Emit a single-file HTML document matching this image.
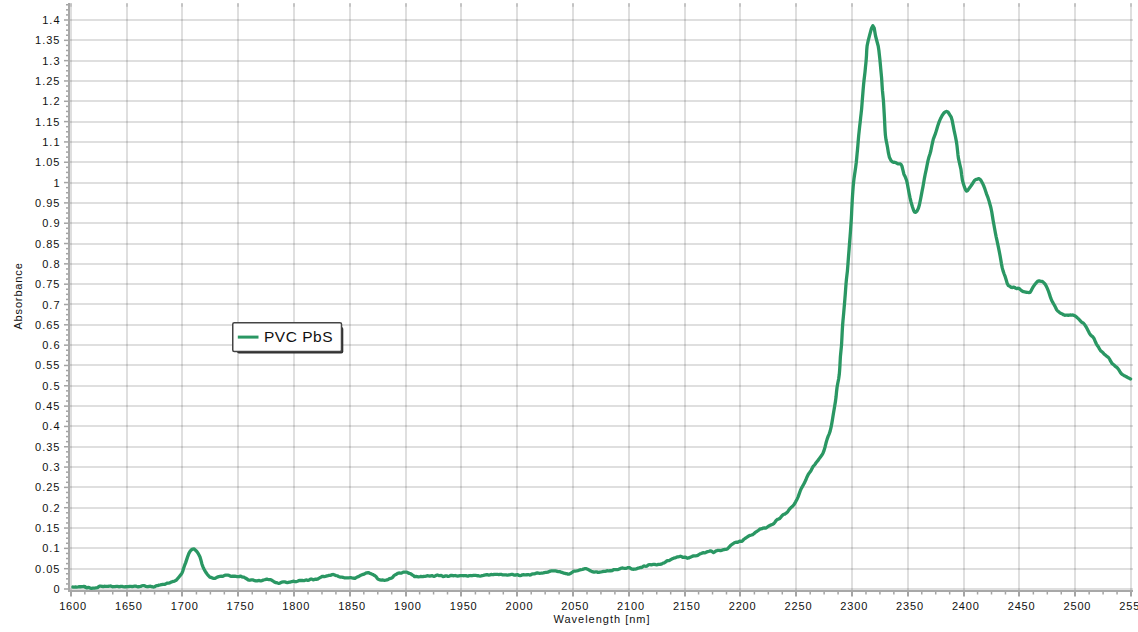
<!DOCTYPE html><html><head><meta charset="utf-8"><style>
html,body{margin:0;padding:0;background:#fff;width:1138px;height:632px;overflow:hidden}
svg{position:absolute;left:0;top:0}
text{font-family:"Liberation Sans",sans-serif;fill:#111}
</style></head><body>
<svg width="1138" height="632" viewBox="0 0 1138 632">

<rect x="70" y="588" width="1063" height="2" fill="rgba(0,0,0,0.127)"/>
<rect x="70" y="568" width="1063" height="2" fill="rgba(0,0,0,0.127)"/>
<rect x="70" y="547" width="1063" height="2" fill="rgba(0,0,0,0.127)"/>
<rect x="70" y="527" width="1063" height="2" fill="rgba(0,0,0,0.127)"/>
<rect x="70" y="507" width="1063" height="2" fill="rgba(0,0,0,0.127)"/>
<rect x="70" y="486" width="1063" height="2" fill="rgba(0,0,0,0.127)"/>
<rect x="70" y="466" width="1063" height="2" fill="rgba(0,0,0,0.127)"/>
<rect x="70" y="446" width="1063" height="2" fill="rgba(0,0,0,0.127)"/>
<rect x="70" y="425" width="1063" height="2" fill="rgba(0,0,0,0.127)"/>
<rect x="70" y="405" width="1063" height="2" fill="rgba(0,0,0,0.127)"/>
<rect x="70" y="385" width="1063" height="2" fill="rgba(0,0,0,0.127)"/>
<rect x="70" y="364" width="1063" height="2" fill="rgba(0,0,0,0.127)"/>
<rect x="70" y="344" width="1063" height="2" fill="rgba(0,0,0,0.127)"/>
<rect x="70" y="324" width="1063" height="2" fill="rgba(0,0,0,0.127)"/>
<rect x="70" y="303" width="1063" height="2" fill="rgba(0,0,0,0.127)"/>
<rect x="70" y="283" width="1063" height="2" fill="rgba(0,0,0,0.127)"/>
<rect x="70" y="263" width="1063" height="2" fill="rgba(0,0,0,0.127)"/>
<rect x="70" y="243" width="1063" height="2" fill="rgba(0,0,0,0.127)"/>
<rect x="70" y="222" width="1063" height="2" fill="rgba(0,0,0,0.127)"/>
<rect x="70" y="202" width="1063" height="2" fill="rgba(0,0,0,0.127)"/>
<rect x="70" y="182" width="1063" height="2" fill="rgba(0,0,0,0.127)"/>
<rect x="70" y="161" width="1063" height="2" fill="rgba(0,0,0,0.127)"/>
<rect x="70" y="141" width="1063" height="2" fill="rgba(0,0,0,0.127)"/>
<rect x="70" y="121" width="1063" height="2" fill="rgba(0,0,0,0.127)"/>
<rect x="70" y="100" width="1063" height="2" fill="rgba(0,0,0,0.127)"/>
<rect x="70" y="80" width="1063" height="2" fill="rgba(0,0,0,0.127)"/>
<rect x="70" y="60" width="1063" height="2" fill="rgba(0,0,0,0.127)"/>
<rect x="70" y="39" width="1063" height="2" fill="rgba(0,0,0,0.127)"/>
<rect x="70" y="19" width="1063" height="2" fill="rgba(0,0,0,0.127)"/>
<rect x="70" y="3.2" width="2" height="586.8" fill="rgba(0,0,0,0.127)"/>
<rect x="70" y="3.2" width="2" height="3.6" fill="rgba(0,0,0,0.127)"/>
<rect x="126" y="3.2" width="2" height="586.8" fill="rgba(0,0,0,0.127)"/>
<rect x="126" y="3.2" width="2" height="3.6" fill="rgba(0,0,0,0.127)"/>
<rect x="181" y="3.2" width="2" height="586.8" fill="rgba(0,0,0,0.127)"/>
<rect x="181" y="3.2" width="2" height="3.6" fill="rgba(0,0,0,0.127)"/>
<rect x="237" y="3.2" width="2" height="586.8" fill="rgba(0,0,0,0.127)"/>
<rect x="237" y="3.2" width="2" height="3.6" fill="rgba(0,0,0,0.127)"/>
<rect x="293" y="3.2" width="2" height="586.8" fill="rgba(0,0,0,0.127)"/>
<rect x="293" y="3.2" width="2" height="3.6" fill="rgba(0,0,0,0.127)"/>
<rect x="349" y="3.2" width="2" height="586.8" fill="rgba(0,0,0,0.127)"/>
<rect x="349" y="3.2" width="2" height="3.6" fill="rgba(0,0,0,0.127)"/>
<rect x="405" y="3.2" width="2" height="586.8" fill="rgba(0,0,0,0.127)"/>
<rect x="405" y="3.2" width="2" height="3.6" fill="rgba(0,0,0,0.127)"/>
<rect x="460" y="3.2" width="2" height="586.8" fill="rgba(0,0,0,0.127)"/>
<rect x="460" y="3.2" width="2" height="3.6" fill="rgba(0,0,0,0.127)"/>
<rect x="516" y="3.2" width="2" height="586.8" fill="rgba(0,0,0,0.127)"/>
<rect x="516" y="3.2" width="2" height="3.6" fill="rgba(0,0,0,0.127)"/>
<rect x="572" y="3.2" width="2" height="586.8" fill="rgba(0,0,0,0.127)"/>
<rect x="572" y="3.2" width="2" height="3.6" fill="rgba(0,0,0,0.127)"/>
<rect x="628" y="3.2" width="2" height="586.8" fill="rgba(0,0,0,0.127)"/>
<rect x="628" y="3.2" width="2" height="3.6" fill="rgba(0,0,0,0.127)"/>
<rect x="684" y="3.2" width="2" height="586.8" fill="rgba(0,0,0,0.127)"/>
<rect x="684" y="3.2" width="2" height="3.6" fill="rgba(0,0,0,0.127)"/>
<rect x="739" y="3.2" width="2" height="586.8" fill="rgba(0,0,0,0.127)"/>
<rect x="739" y="3.2" width="2" height="3.6" fill="rgba(0,0,0,0.127)"/>
<rect x="795" y="3.2" width="2" height="586.8" fill="rgba(0,0,0,0.127)"/>
<rect x="795" y="3.2" width="2" height="3.6" fill="rgba(0,0,0,0.127)"/>
<rect x="851" y="3.2" width="2" height="586.8" fill="rgba(0,0,0,0.127)"/>
<rect x="851" y="3.2" width="2" height="3.6" fill="rgba(0,0,0,0.127)"/>
<rect x="907" y="3.2" width="2" height="586.8" fill="rgba(0,0,0,0.127)"/>
<rect x="907" y="3.2" width="2" height="3.6" fill="rgba(0,0,0,0.127)"/>
<rect x="963" y="3.2" width="2" height="586.8" fill="rgba(0,0,0,0.127)"/>
<rect x="963" y="3.2" width="2" height="3.6" fill="rgba(0,0,0,0.127)"/>
<rect x="1018" y="3.2" width="2" height="586.8" fill="rgba(0,0,0,0.127)"/>
<rect x="1018" y="3.2" width="2" height="3.6" fill="rgba(0,0,0,0.127)"/>
<rect x="1074" y="3.2" width="2" height="586.8" fill="rgba(0,0,0,0.127)"/>
<rect x="1074" y="3.2" width="2" height="3.6" fill="rgba(0,0,0,0.127)"/>
<rect x="1130" y="3.2" width="2" height="586.8" fill="rgba(0,0,0,0.127)"/>
<rect x="1130" y="3.2" width="2" height="3.6" fill="rgba(0,0,0,0.127)"/>
<rect x="68" y="3" width="2" height="588" fill="#a8a8a8"/>
<rect x="68" y="590" width="1065" height="2" fill="#a8a8a8"/>
<rect x="64" y="588.25" width="4" height="1.5" fill="#a4a4a4"/>
<rect x="66" y="583.17" width="2" height="1.5" fill="#a4a4a4"/>
<rect x="66" y="578.09" width="2" height="1.5" fill="#a4a4a4"/>
<rect x="66" y="573.01" width="2" height="1.5" fill="#a4a4a4"/>
<rect x="64" y="567.93" width="4" height="1.5" fill="#a4a4a4"/>
<rect x="66" y="562.85" width="2" height="1.5" fill="#a4a4a4"/>
<rect x="66" y="557.77" width="2" height="1.5" fill="#a4a4a4"/>
<rect x="66" y="552.69" width="2" height="1.5" fill="#a4a4a4"/>
<rect x="64" y="547.61" width="4" height="1.5" fill="#a4a4a4"/>
<rect x="66" y="542.53" width="2" height="1.5" fill="#a4a4a4"/>
<rect x="66" y="537.45" width="2" height="1.5" fill="#a4a4a4"/>
<rect x="66" y="532.37" width="2" height="1.5" fill="#a4a4a4"/>
<rect x="64" y="527.29" width="4" height="1.5" fill="#a4a4a4"/>
<rect x="66" y="522.21" width="2" height="1.5" fill="#a4a4a4"/>
<rect x="66" y="517.12" width="2" height="1.5" fill="#a4a4a4"/>
<rect x="66" y="512.04" width="2" height="1.5" fill="#a4a4a4"/>
<rect x="64" y="506.96" width="4" height="1.5" fill="#a4a4a4"/>
<rect x="66" y="501.88" width="2" height="1.5" fill="#a4a4a4"/>
<rect x="66" y="496.80" width="2" height="1.5" fill="#a4a4a4"/>
<rect x="66" y="491.72" width="2" height="1.5" fill="#a4a4a4"/>
<rect x="64" y="486.64" width="4" height="1.5" fill="#a4a4a4"/>
<rect x="66" y="481.56" width="2" height="1.5" fill="#a4a4a4"/>
<rect x="66" y="476.48" width="2" height="1.5" fill="#a4a4a4"/>
<rect x="66" y="471.40" width="2" height="1.5" fill="#a4a4a4"/>
<rect x="64" y="466.32" width="4" height="1.5" fill="#a4a4a4"/>
<rect x="66" y="461.24" width="2" height="1.5" fill="#a4a4a4"/>
<rect x="66" y="456.16" width="2" height="1.5" fill="#a4a4a4"/>
<rect x="66" y="451.08" width="2" height="1.5" fill="#a4a4a4"/>
<rect x="64" y="446.00" width="4" height="1.5" fill="#a4a4a4"/>
<rect x="66" y="440.92" width="2" height="1.5" fill="#a4a4a4"/>
<rect x="66" y="435.84" width="2" height="1.5" fill="#a4a4a4"/>
<rect x="66" y="430.76" width="2" height="1.5" fill="#a4a4a4"/>
<rect x="64" y="425.68" width="4" height="1.5" fill="#a4a4a4"/>
<rect x="66" y="420.60" width="2" height="1.5" fill="#a4a4a4"/>
<rect x="66" y="415.52" width="2" height="1.5" fill="#a4a4a4"/>
<rect x="66" y="410.44" width="2" height="1.5" fill="#a4a4a4"/>
<rect x="64" y="405.36" width="4" height="1.5" fill="#a4a4a4"/>
<rect x="66" y="400.28" width="2" height="1.5" fill="#a4a4a4"/>
<rect x="66" y="395.20" width="2" height="1.5" fill="#a4a4a4"/>
<rect x="66" y="390.12" width="2" height="1.5" fill="#a4a4a4"/>
<rect x="64" y="385.04" width="4" height="1.5" fill="#a4a4a4"/>
<rect x="66" y="379.96" width="2" height="1.5" fill="#a4a4a4"/>
<rect x="66" y="374.88" width="2" height="1.5" fill="#a4a4a4"/>
<rect x="66" y="369.79" width="2" height="1.5" fill="#a4a4a4"/>
<rect x="64" y="364.71" width="4" height="1.5" fill="#a4a4a4"/>
<rect x="66" y="359.63" width="2" height="1.5" fill="#a4a4a4"/>
<rect x="66" y="354.55" width="2" height="1.5" fill="#a4a4a4"/>
<rect x="66" y="349.47" width="2" height="1.5" fill="#a4a4a4"/>
<rect x="64" y="344.39" width="4" height="1.5" fill="#a4a4a4"/>
<rect x="66" y="339.31" width="2" height="1.5" fill="#a4a4a4"/>
<rect x="66" y="334.23" width="2" height="1.5" fill="#a4a4a4"/>
<rect x="66" y="329.15" width="2" height="1.5" fill="#a4a4a4"/>
<rect x="64" y="324.07" width="4" height="1.5" fill="#a4a4a4"/>
<rect x="66" y="318.99" width="2" height="1.5" fill="#a4a4a4"/>
<rect x="66" y="313.91" width="2" height="1.5" fill="#a4a4a4"/>
<rect x="66" y="308.83" width="2" height="1.5" fill="#a4a4a4"/>
<rect x="64" y="303.75" width="4" height="1.5" fill="#a4a4a4"/>
<rect x="66" y="298.67" width="2" height="1.5" fill="#a4a4a4"/>
<rect x="66" y="293.59" width="2" height="1.5" fill="#a4a4a4"/>
<rect x="66" y="288.51" width="2" height="1.5" fill="#a4a4a4"/>
<rect x="64" y="283.43" width="4" height="1.5" fill="#a4a4a4"/>
<rect x="66" y="278.35" width="2" height="1.5" fill="#a4a4a4"/>
<rect x="66" y="273.27" width="2" height="1.5" fill="#a4a4a4"/>
<rect x="66" y="268.19" width="2" height="1.5" fill="#a4a4a4"/>
<rect x="64" y="263.11" width="4" height="1.5" fill="#a4a4a4"/>
<rect x="66" y="258.03" width="2" height="1.5" fill="#a4a4a4"/>
<rect x="66" y="252.95" width="2" height="1.5" fill="#a4a4a4"/>
<rect x="66" y="247.87" width="2" height="1.5" fill="#a4a4a4"/>
<rect x="64" y="242.79" width="4" height="1.5" fill="#a4a4a4"/>
<rect x="66" y="237.71" width="2" height="1.5" fill="#a4a4a4"/>
<rect x="66" y="232.62" width="2" height="1.5" fill="#a4a4a4"/>
<rect x="66" y="227.54" width="2" height="1.5" fill="#a4a4a4"/>
<rect x="64" y="222.46" width="4" height="1.5" fill="#a4a4a4"/>
<rect x="66" y="217.38" width="2" height="1.5" fill="#a4a4a4"/>
<rect x="66" y="212.30" width="2" height="1.5" fill="#a4a4a4"/>
<rect x="66" y="207.22" width="2" height="1.5" fill="#a4a4a4"/>
<rect x="64" y="202.14" width="4" height="1.5" fill="#a4a4a4"/>
<rect x="66" y="197.06" width="2" height="1.5" fill="#a4a4a4"/>
<rect x="66" y="191.98" width="2" height="1.5" fill="#a4a4a4"/>
<rect x="66" y="186.90" width="2" height="1.5" fill="#a4a4a4"/>
<rect x="64" y="181.82" width="4" height="1.5" fill="#a4a4a4"/>
<rect x="66" y="176.74" width="2" height="1.5" fill="#a4a4a4"/>
<rect x="66" y="171.66" width="2" height="1.5" fill="#a4a4a4"/>
<rect x="66" y="166.58" width="2" height="1.5" fill="#a4a4a4"/>
<rect x="64" y="161.50" width="4" height="1.5" fill="#a4a4a4"/>
<rect x="66" y="156.42" width="2" height="1.5" fill="#a4a4a4"/>
<rect x="66" y="151.34" width="2" height="1.5" fill="#a4a4a4"/>
<rect x="66" y="146.26" width="2" height="1.5" fill="#a4a4a4"/>
<rect x="64" y="141.18" width="4" height="1.5" fill="#a4a4a4"/>
<rect x="66" y="136.10" width="2" height="1.5" fill="#a4a4a4"/>
<rect x="66" y="131.02" width="2" height="1.5" fill="#a4a4a4"/>
<rect x="66" y="125.94" width="2" height="1.5" fill="#a4a4a4"/>
<rect x="64" y="120.86" width="4" height="1.5" fill="#a4a4a4"/>
<rect x="66" y="115.78" width="2" height="1.5" fill="#a4a4a4"/>
<rect x="66" y="110.70" width="2" height="1.5" fill="#a4a4a4"/>
<rect x="66" y="105.62" width="2" height="1.5" fill="#a4a4a4"/>
<rect x="64" y="100.54" width="4" height="1.5" fill="#a4a4a4"/>
<rect x="66" y="95.46" width="2" height="1.5" fill="#a4a4a4"/>
<rect x="66" y="90.37" width="2" height="1.5" fill="#a4a4a4"/>
<rect x="66" y="85.29" width="2" height="1.5" fill="#a4a4a4"/>
<rect x="64" y="80.21" width="4" height="1.5" fill="#a4a4a4"/>
<rect x="66" y="75.13" width="2" height="1.5" fill="#a4a4a4"/>
<rect x="66" y="70.05" width="2" height="1.5" fill="#a4a4a4"/>
<rect x="66" y="64.97" width="2" height="1.5" fill="#a4a4a4"/>
<rect x="64" y="59.89" width="4" height="1.5" fill="#a4a4a4"/>
<rect x="66" y="54.81" width="2" height="1.5" fill="#a4a4a4"/>
<rect x="66" y="49.73" width="2" height="1.5" fill="#a4a4a4"/>
<rect x="66" y="44.65" width="2" height="1.5" fill="#a4a4a4"/>
<rect x="64" y="39.57" width="4" height="1.5" fill="#a4a4a4"/>
<rect x="66" y="34.49" width="2" height="1.5" fill="#a4a4a4"/>
<rect x="66" y="29.41" width="2" height="1.5" fill="#a4a4a4"/>
<rect x="66" y="24.33" width="2" height="1.5" fill="#a4a4a4"/>
<rect x="64" y="19.25" width="4" height="1.5" fill="#a4a4a4"/>
<rect x="66" y="14.17" width="2" height="1.5" fill="#a4a4a4"/>
<rect x="66" y="9.09" width="2" height="1.5" fill="#a4a4a4"/>
<rect x="66" y="4.01" width="2" height="1.5" fill="#a4a4a4"/>
<rect x="70" y="592" width="2" height="4.5" fill="#a4a4a4"/>
<rect x="84.10" y="592" width="1.5" height="2.5" fill="#a4a4a4"/>
<rect x="98.05" y="592" width="1.5" height="2.5" fill="#a4a4a4"/>
<rect x="112.00" y="592" width="1.5" height="2.5" fill="#a4a4a4"/>
<rect x="126" y="592" width="2" height="4.5" fill="#a4a4a4"/>
<rect x="139.89" y="592" width="1.5" height="2.5" fill="#a4a4a4"/>
<rect x="153.84" y="592" width="1.5" height="2.5" fill="#a4a4a4"/>
<rect x="167.79" y="592" width="1.5" height="2.5" fill="#a4a4a4"/>
<rect x="181" y="592" width="2" height="4.5" fill="#a4a4a4"/>
<rect x="195.69" y="592" width="1.5" height="2.5" fill="#a4a4a4"/>
<rect x="209.64" y="592" width="1.5" height="2.5" fill="#a4a4a4"/>
<rect x="223.59" y="592" width="1.5" height="2.5" fill="#a4a4a4"/>
<rect x="237" y="592" width="2" height="4.5" fill="#a4a4a4"/>
<rect x="251.48" y="592" width="1.5" height="2.5" fill="#a4a4a4"/>
<rect x="265.43" y="592" width="1.5" height="2.5" fill="#a4a4a4"/>
<rect x="279.38" y="592" width="1.5" height="2.5" fill="#a4a4a4"/>
<rect x="293" y="592" width="2" height="4.5" fill="#a4a4a4"/>
<rect x="307.28" y="592" width="1.5" height="2.5" fill="#a4a4a4"/>
<rect x="321.23" y="592" width="1.5" height="2.5" fill="#a4a4a4"/>
<rect x="335.17" y="592" width="1.5" height="2.5" fill="#a4a4a4"/>
<rect x="349" y="592" width="2" height="4.5" fill="#a4a4a4"/>
<rect x="363.07" y="592" width="1.5" height="2.5" fill="#a4a4a4"/>
<rect x="377.02" y="592" width="1.5" height="2.5" fill="#a4a4a4"/>
<rect x="390.97" y="592" width="1.5" height="2.5" fill="#a4a4a4"/>
<rect x="405" y="592" width="2" height="4.5" fill="#a4a4a4"/>
<rect x="418.87" y="592" width="1.5" height="2.5" fill="#a4a4a4"/>
<rect x="432.82" y="592" width="1.5" height="2.5" fill="#a4a4a4"/>
<rect x="446.76" y="592" width="1.5" height="2.5" fill="#a4a4a4"/>
<rect x="460" y="592" width="2" height="4.5" fill="#a4a4a4"/>
<rect x="474.66" y="592" width="1.5" height="2.5" fill="#a4a4a4"/>
<rect x="488.61" y="592" width="1.5" height="2.5" fill="#a4a4a4"/>
<rect x="502.56" y="592" width="1.5" height="2.5" fill="#a4a4a4"/>
<rect x="516" y="592" width="2" height="4.5" fill="#a4a4a4"/>
<rect x="530.46" y="592" width="1.5" height="2.5" fill="#a4a4a4"/>
<rect x="544.41" y="592" width="1.5" height="2.5" fill="#a4a4a4"/>
<rect x="558.35" y="592" width="1.5" height="2.5" fill="#a4a4a4"/>
<rect x="572" y="592" width="2" height="4.5" fill="#a4a4a4"/>
<rect x="586.25" y="592" width="1.5" height="2.5" fill="#a4a4a4"/>
<rect x="600.20" y="592" width="1.5" height="2.5" fill="#a4a4a4"/>
<rect x="614.15" y="592" width="1.5" height="2.5" fill="#a4a4a4"/>
<rect x="628" y="592" width="2" height="4.5" fill="#a4a4a4"/>
<rect x="642.05" y="592" width="1.5" height="2.5" fill="#a4a4a4"/>
<rect x="655.99" y="592" width="1.5" height="2.5" fill="#a4a4a4"/>
<rect x="669.94" y="592" width="1.5" height="2.5" fill="#a4a4a4"/>
<rect x="684" y="592" width="2" height="4.5" fill="#a4a4a4"/>
<rect x="697.84" y="592" width="1.5" height="2.5" fill="#a4a4a4"/>
<rect x="711.79" y="592" width="1.5" height="2.5" fill="#a4a4a4"/>
<rect x="725.74" y="592" width="1.5" height="2.5" fill="#a4a4a4"/>
<rect x="739" y="592" width="2" height="4.5" fill="#a4a4a4"/>
<rect x="753.64" y="592" width="1.5" height="2.5" fill="#a4a4a4"/>
<rect x="767.58" y="592" width="1.5" height="2.5" fill="#a4a4a4"/>
<rect x="781.53" y="592" width="1.5" height="2.5" fill="#a4a4a4"/>
<rect x="795" y="592" width="2" height="4.5" fill="#a4a4a4"/>
<rect x="809.43" y="592" width="1.5" height="2.5" fill="#a4a4a4"/>
<rect x="823.38" y="592" width="1.5" height="2.5" fill="#a4a4a4"/>
<rect x="837.33" y="592" width="1.5" height="2.5" fill="#a4a4a4"/>
<rect x="851" y="592" width="2" height="4.5" fill="#a4a4a4"/>
<rect x="865.23" y="592" width="1.5" height="2.5" fill="#a4a4a4"/>
<rect x="879.17" y="592" width="1.5" height="2.5" fill="#a4a4a4"/>
<rect x="893.12" y="592" width="1.5" height="2.5" fill="#a4a4a4"/>
<rect x="907" y="592" width="2" height="4.5" fill="#a4a4a4"/>
<rect x="921.02" y="592" width="1.5" height="2.5" fill="#a4a4a4"/>
<rect x="934.97" y="592" width="1.5" height="2.5" fill="#a4a4a4"/>
<rect x="948.92" y="592" width="1.5" height="2.5" fill="#a4a4a4"/>
<rect x="963" y="592" width="2" height="4.5" fill="#a4a4a4"/>
<rect x="976.81" y="592" width="1.5" height="2.5" fill="#a4a4a4"/>
<rect x="990.76" y="592" width="1.5" height="2.5" fill="#a4a4a4"/>
<rect x="1004.71" y="592" width="1.5" height="2.5" fill="#a4a4a4"/>
<rect x="1018" y="592" width="2" height="4.5" fill="#a4a4a4"/>
<rect x="1032.61" y="592" width="1.5" height="2.5" fill="#a4a4a4"/>
<rect x="1046.56" y="592" width="1.5" height="2.5" fill="#a4a4a4"/>
<rect x="1060.51" y="592" width="1.5" height="2.5" fill="#a4a4a4"/>
<rect x="1074" y="592" width="2" height="4.5" fill="#a4a4a4"/>
<rect x="1088.40" y="592" width="1.5" height="2.5" fill="#a4a4a4"/>
<rect x="1102.35" y="592" width="1.5" height="2.5" fill="#a4a4a4"/>
<rect x="1116.30" y="592" width="1.5" height="2.5" fill="#a4a4a4"/>
<rect x="1130" y="592" width="2" height="4.5" fill="#a4a4a4"/>
<text x="60.5" y="593.00" font-size="11" text-anchor="end" letter-spacing="1.0">0</text>
<text x="60.5" y="572.68" font-size="11" text-anchor="end" letter-spacing="1.0">0.05</text>
<text x="60.5" y="552.36" font-size="11" text-anchor="end" letter-spacing="1.0">0.1</text>
<text x="60.5" y="532.04" font-size="11" text-anchor="end" letter-spacing="1.0">0.15</text>
<text x="60.5" y="511.71" font-size="11" text-anchor="end" letter-spacing="1.0">0.2</text>
<text x="60.5" y="491.39" font-size="11" text-anchor="end" letter-spacing="1.0">0.25</text>
<text x="60.5" y="471.07" font-size="11" text-anchor="end" letter-spacing="1.0">0.3</text>
<text x="60.5" y="450.75" font-size="11" text-anchor="end" letter-spacing="1.0">0.35</text>
<text x="60.5" y="430.43" font-size="11" text-anchor="end" letter-spacing="1.0">0.4</text>
<text x="60.5" y="410.11" font-size="11" text-anchor="end" letter-spacing="1.0">0.45</text>
<text x="60.5" y="389.79" font-size="11" text-anchor="end" letter-spacing="1.0">0.5</text>
<text x="60.5" y="369.46" font-size="11" text-anchor="end" letter-spacing="1.0">0.55</text>
<text x="60.5" y="349.14" font-size="11" text-anchor="end" letter-spacing="1.0">0.6</text>
<text x="60.5" y="328.82" font-size="11" text-anchor="end" letter-spacing="1.0">0.65</text>
<text x="60.5" y="308.50" font-size="11" text-anchor="end" letter-spacing="1.0">0.7</text>
<text x="60.5" y="288.18" font-size="11" text-anchor="end" letter-spacing="1.0">0.75</text>
<text x="60.5" y="267.86" font-size="11" text-anchor="end" letter-spacing="1.0">0.8</text>
<text x="60.5" y="247.54" font-size="11" text-anchor="end" letter-spacing="1.0">0.85</text>
<text x="60.5" y="227.21" font-size="11" text-anchor="end" letter-spacing="1.0">0.9</text>
<text x="60.5" y="206.89" font-size="11" text-anchor="end" letter-spacing="1.0">0.95</text>
<text x="60.5" y="186.57" font-size="11" text-anchor="end" letter-spacing="1.0">1</text>
<text x="60.5" y="166.25" font-size="11" text-anchor="end" letter-spacing="1.0">1.05</text>
<text x="60.5" y="145.93" font-size="11" text-anchor="end" letter-spacing="1.0">1.1</text>
<text x="60.5" y="125.61" font-size="11" text-anchor="end" letter-spacing="1.0">1.15</text>
<text x="60.5" y="105.29" font-size="11" text-anchor="end" letter-spacing="1.0">1.2</text>
<text x="60.5" y="84.96" font-size="11" text-anchor="end" letter-spacing="1.0">1.25</text>
<text x="60.5" y="64.64" font-size="11" text-anchor="end" letter-spacing="1.0">1.3</text>
<text x="60.5" y="44.32" font-size="11" text-anchor="end" letter-spacing="1.0">1.35</text>
<text x="60.5" y="24.00" font-size="11" text-anchor="end" letter-spacing="1.0">1.4</text>
<text x="73.10" y="610" font-size="11" text-anchor="middle" letter-spacing="0.85">1600</text>
<text x="128.89" y="610" font-size="11" text-anchor="middle" letter-spacing="0.85">1650</text>
<text x="184.69" y="610" font-size="11" text-anchor="middle" letter-spacing="0.85">1700</text>
<text x="240.48" y="610" font-size="11" text-anchor="middle" letter-spacing="0.85">1750</text>
<text x="296.28" y="610" font-size="11" text-anchor="middle" letter-spacing="0.85">1800</text>
<text x="352.07" y="610" font-size="11" text-anchor="middle" letter-spacing="0.85">1850</text>
<text x="407.87" y="610" font-size="11" text-anchor="middle" letter-spacing="0.85">1900</text>
<text x="463.66" y="610" font-size="11" text-anchor="middle" letter-spacing="0.85">1950</text>
<text x="519.46" y="610" font-size="11" text-anchor="middle" letter-spacing="0.85">2000</text>
<text x="575.25" y="610" font-size="11" text-anchor="middle" letter-spacing="0.85">2050</text>
<text x="631.05" y="610" font-size="11" text-anchor="middle" letter-spacing="0.85">2100</text>
<text x="686.84" y="610" font-size="11" text-anchor="middle" letter-spacing="0.85">2150</text>
<text x="742.64" y="610" font-size="11" text-anchor="middle" letter-spacing="0.85">2200</text>
<text x="798.43" y="610" font-size="11" text-anchor="middle" letter-spacing="0.85">2250</text>
<text x="854.23" y="610" font-size="11" text-anchor="middle" letter-spacing="0.85">2300</text>
<text x="910.02" y="610" font-size="11" text-anchor="middle" letter-spacing="0.85">2350</text>
<text x="965.82" y="610" font-size="11" text-anchor="middle" letter-spacing="0.85">2400</text>
<text x="1021.61" y="610" font-size="11" text-anchor="middle" letter-spacing="0.85">2450</text>
<text x="1077.41" y="610" font-size="11" text-anchor="middle" letter-spacing="0.85">2500</text>
<text x="1133.20" y="610" font-size="11" text-anchor="middle" letter-spacing="0.85">2550</text>
<text x="602" y="623" font-size="11" text-anchor="middle" letter-spacing="1.0">Wavelength [nm]</text>
<text transform="translate(22.4,296) rotate(-90)" x="0" y="0" font-size="11" text-anchor="middle" letter-spacing="0.85">Absorbance</text>
<path d="M72.80,587.01 L73.49,587.05 L74.42,587.13 L75.54,587.00 L76.79,587.03 L78.11,586.90 L79.44,586.71 L80.73,586.73 L81.93,586.66 L82.97,586.63 L83.80,586.50 L85.19,586.69 L85.71,587.48 L86.90,587.89 L87.80,587.52 L88.90,587.51 L90.15,588.09 L91.48,588.40 L92.80,588.13 L94.06,588.04 L95.18,588.03 L96.10,587.77 L97.56,587.55 L98.38,586.95 L99.60,586.21 L100.60,586.09 L101.77,586.36 L103.04,586.51 L104.34,586.27 L105.58,586.31 L106.70,586.40 L107.85,586.32 L108.87,586.26 L109.84,586.04 L110.83,586.01 L111.90,586.42 L112.71,586.79 L113.37,586.68 L114.06,586.53 L114.96,586.59 L116.24,586.45 L118.10,586.43 L118.90,586.76 L119.82,586.68 L120.84,586.37 L121.95,586.44 L123.13,586.71 L124.38,586.93 L125.66,586.76 L126.98,586.61 L128.31,586.65 L129.63,586.32 L130.94,586.36 L132.21,586.52 L133.44,586.28 L134.60,586.10 L135.68,586.12 L136.67,586.51 L137.55,586.77 L138.30,586.75 L140.53,586.48 L141.54,585.99 L142.06,585.77 L142.80,585.71 L143.86,585.67 L144.88,585.92 L145.93,586.50 L147.10,586.74 L148.14,586.56 L149.26,586.35 L150.42,586.26 L151.61,586.58 L152.80,586.94 L153.82,587.06 L154.89,586.67 L155.96,585.96 L157.03,585.74 L158.05,585.55 L159.00,585.13 L160.28,584.93 L161.44,584.71 L162.55,584.35 L163.70,584.35 L164.92,584.31 L166.16,583.65 L167.37,583.07 L168.50,583.06 L169.84,582.80 L171.07,582.13 L172.30,581.69 L173.59,581.43 L174.87,580.96 L176.10,580.22 L177.27,579.08 L178.39,577.68 L179.40,576.46 L180.69,574.92 L181.80,573.39 L182.78,571.04 L183.70,567.95 L184.68,565.21 L185.60,562.89 L187.00,558.63 L187.87,556.03 L188.90,553.37 L190.22,551.18 L191.60,549.71 L192.79,549.03 L194.00,548.98 L194.89,549.59 L195.82,550.55 L196.80,551.48 L197.89,552.90 L199.01,555.02 L200.00,557.01 L200.96,560.15 L201.90,563.98 L202.87,566.65 L203.97,569.01 L205.00,570.89 L206.18,572.87 L207.40,574.48 L208.44,575.69 L209.59,576.89 L210.80,577.47 L211.75,577.72 L212.76,578.12 L213.76,578.38 L214.70,578.40 L215.89,577.91 L217.01,577.27 L218.00,576.88 L218.91,576.62 L220.10,576.28 L221.00,576.24 L222.09,576.46 L223.30,576.11 L224.53,575.38 L225.70,575.15 L226.82,575.22 L227.94,575.17 L229.06,575.34 L230.15,576.04 L231.20,576.39 L232.47,576.25 L233.69,576.22 L234.87,576.23 L236.00,576.38 L237.08,576.57 L238.11,576.72 L239.09,576.72 L240.00,576.23 L241.02,576.23 L241.93,576.91 L243.00,577.07 L243.86,577.15 L244.73,577.69 L245.83,578.26 L247.40,579.23 L248.22,580.01 L249.17,580.24 L250.21,580.06 L251.32,579.85 L252.48,579.86 L253.66,580.18 L254.82,580.68 L255.95,580.97 L257.02,580.96 L258.00,580.65 L259.25,580.51 L260.38,580.81 L261.44,580.83 L262.47,580.40 L263.53,579.99 L264.66,579.74 L265.90,579.44 L266.85,579.20 L267.86,579.40 L268.91,579.55 L269.99,579.55 L271.09,579.91 L272.20,580.54 L273.29,581.22 L274.37,582.07 L275.41,582.57 L276.40,582.65 L277.59,583.04 L278.74,583.38 L279.86,583.13 L280.96,582.51 L282.04,582.07 L283.10,581.93 L284.15,581.84 L285.20,581.95 L286.35,582.38 L287.42,582.69 L288.47,582.48 L289.52,582.06 L290.61,581.98 L291.80,581.71 L293.10,581.23 L294.10,581.43 L295.17,581.73 L296.29,581.58 L297.45,581.23 L298.63,580.70 L299.83,580.44 L301.03,580.51 L302.22,580.46 L303.38,580.62 L304.50,580.61 L305.61,580.07 L306.73,579.98 L307.85,580.30 L308.97,580.03 L310.07,579.34 L311.16,578.99 L312.21,579.25 L313.22,579.80 L314.19,579.64 L315.10,579.17 L316.45,579.26 L317.63,579.21 L318.71,578.47 L319.77,577.74 L320.87,577.19 L322.10,576.47 L323.14,576.31 L324.26,576.65 L325.43,576.40 L326.62,575.99 L327.79,575.77 L328.92,575.43 L329.96,575.38 L330.90,575.13 L332.17,574.55 L333.26,574.48 L334.22,574.75 L335.11,575.16 L336.00,575.55 L336.92,575.77 L337.66,575.94 L338.56,576.42 L340.00,577.04 L340.82,577.05 L341.81,577.07 L342.92,577.49 L344.11,577.73 L345.33,577.78 L346.55,577.93 L347.73,577.91 L348.83,577.85 L349.80,577.73 L350.60,577.55 L352.21,577.98 L353.04,578.21 L354.10,578.25 L355.06,578.25 L356.12,577.62 L357.25,577.06 L358.45,576.65 L359.70,575.87 L360.84,575.17 L362.09,574.70 L363.38,574.38 L364.64,573.80 L365.81,573.08 L366.80,572.76 L368.18,572.53 L369.16,572.83 L370.30,573.55 L371.48,573.93 L372.79,574.43 L374.09,575.28 L375.20,575.96 L376.23,576.84 L377.03,578.04 L378.00,579.06 L378.91,579.58 L379.89,579.96 L381.00,580.03 L382.30,580.00 L383.33,580.13 L384.49,580.28 L385.72,580.16 L386.97,579.99 L388.18,579.51 L389.30,578.71 L390.52,578.32 L391.67,578.10 L392.77,577.16 L393.84,575.78 L394.90,574.97 L395.93,574.52 L396.91,573.85 L397.89,573.24 L398.87,572.97 L399.90,573.09 L400.99,573.18 L402.13,572.71 L403.28,572.12 L404.42,572.13 L405.50,572.08 L406.81,572.08 L408.08,572.88 L409.29,573.39 L410.40,573.56 L411.57,574.41 L412.59,575.17 L413.90,575.96 L414.66,576.67 L415.41,576.72 L416.23,576.40 L417.21,576.55 L418.44,576.78 L420.00,576.63 L420.81,576.45 L421.72,576.62 L422.71,576.65 L423.77,576.34 L424.88,576.34 L426.04,576.17 L427.23,575.75 L428.42,575.84 L429.61,576.07 L430.78,575.78 L431.92,575.63 L433.02,576.08 L434.05,576.33 L435.00,575.98 L436.21,575.33 L437.30,575.00 L438.31,575.25 L439.26,575.66 L440.19,575.55 L441.13,575.41 L442.09,575.92 L443.13,576.51 L444.25,576.45 L445.50,575.87 L446.47,575.86 L447.47,576.32 L448.52,576.38 L449.60,576.03 L450.71,575.48 L451.85,575.40 L453.01,575.79 L454.18,575.62 L455.37,575.52 L456.58,575.96 L457.78,576.11 L458.99,575.77 L460.20,575.53 L461.40,575.54 L462.45,575.54 L463.52,575.74 L464.60,575.71 L465.68,575.57 L466.78,575.93 L467.88,576.12 L468.99,575.69 L470.10,575.51 L471.22,575.73 L472.33,575.64 L473.45,575.46 L474.57,575.43 L475.68,575.44 L476.79,575.59 L477.90,575.74 L479.00,575.96 L480.10,576.10 L481.19,575.89 L482.29,575.63 L483.38,575.39 L484.47,575.12 L485.57,574.86 L486.66,574.67 L487.75,574.73 L488.84,575.04 L489.93,574.89 L491.03,574.47 L492.12,574.65 L493.21,574.71 L494.31,574.40 L495.40,574.42 L496.50,574.38 L497.62,574.40 L498.78,574.54 L499.96,574.37 L501.17,574.40 L502.39,574.80 L503.61,574.93 L504.82,574.79 L506.02,574.97 L507.20,575.13 L508.35,574.99 L509.46,574.81 L510.52,574.60 L511.52,574.42 L512.46,574.39 L513.32,574.72 L514.10,575.11 L516.01,574.98 L517.25,574.63 L518.12,574.81 L518.94,575.42 L520.00,575.66 L521.11,575.33 L522.28,574.91 L523.48,574.75 L524.69,574.87 L525.87,574.89 L527.00,574.75 L528.00,574.64 L528.87,574.72 L529.71,575.03 L530.64,574.91 L531.77,574.15 L533.20,573.80 L534.07,573.93 L535.06,573.62 L536.13,573.14 L537.28,572.95 L538.47,573.12 L539.69,573.33 L540.92,573.20 L542.13,573.02 L543.31,572.85 L544.43,572.57 L545.46,572.40 L546.40,572.38 L547.83,572.15 L549.12,571.60 L550.30,571.16 L551.38,570.98 L552.39,570.85 L553.36,570.83 L554.30,570.88 L555.47,570.97 L556.44,571.13 L557.35,571.43 L558.32,571.68 L559.50,571.59 L560.50,571.90 L561.61,572.47 L562.79,572.71 L563.99,573.23 L565.21,573.51 L566.39,573.53 L567.50,574.07 L568.70,574.20 L569.84,573.67 L570.95,573.18 L572.07,572.44 L573.24,571.49 L574.50,571.06 L575.53,571.04 L576.62,570.97 L577.75,570.75 L578.90,570.30 L580.05,569.92 L581.18,569.74 L582.27,569.51 L583.30,569.13 L584.59,568.69 L585.83,568.58 L587.02,569.02 L588.16,569.54 L589.25,570.12 L590.30,570.85 L591.36,571.30 L592.21,571.59 L593.06,571.97 L594.12,572.19 L595.60,571.95 L596.48,571.79 L597.51,572.24 L598.64,572.39 L599.86,572.09 L601.12,571.97 L602.39,571.73 L603.66,571.44 L604.87,571.44 L606.00,571.11 L607.02,570.71 L607.90,570.90 L609.34,570.93 L610.31,570.65 L611.09,570.74 L611.94,570.70 L613.10,570.06 L614.05,569.61 L615.11,569.56 L616.25,569.64 L617.43,569.56 L618.63,569.30 L619.81,568.85 L620.95,568.24 L622.00,567.98 L623.30,568.21 L624.54,568.40 L625.72,568.28 L626.87,568.03 L628.00,567.66 L629.10,567.58 L630.17,568.09 L631.20,568.76 L632.21,569.20 L633.20,569.24 L634.19,569.11 L635.20,569.10 L636.20,568.97 L637.17,568.48 L638.14,568.11 L639.14,567.90 L640.22,567.52 L641.40,567.49 L642.37,567.10 L643.40,566.15 L644.48,565.99 L645.59,566.27 L646.72,566.04 L647.86,565.29 L648.99,564.63 L650.10,564.64 L651.20,564.81 L652.29,564.59 L653.39,564.38 L654.49,564.33 L655.60,564.66 L656.70,564.81 L657.80,564.49 L658.90,564.43 L659.98,564.38 L661.04,564.21 L662.09,563.68 L663.14,563.10 L664.21,562.90 L665.32,562.19 L666.48,561.13 L667.70,560.64 L668.76,560.61 L669.91,560.21 L671.12,559.42 L672.37,558.72 L673.62,558.22 L674.85,557.95 L676.05,557.50 L677.17,556.86 L678.20,556.82 L679.10,556.65 L680.56,556.22 L681.70,556.68 L682.64,557.26 L683.50,557.42 L684.40,557.23 L685.48,557.24 L686.44,557.76 L687.47,558.24 L688.80,557.94 L689.73,557.42 L690.75,557.08 L691.85,556.59 L693.00,556.01 L694.21,555.92 L695.45,555.95 L696.70,555.65 L697.73,555.31 L698.85,554.56 L700.01,553.90 L701.21,553.49 L702.39,552.90 L703.53,552.70 L704.60,552.83 L705.57,552.61 L706.40,552.11 L707.80,551.52 L708.76,551.36 L709.51,551.18 L710.30,550.94 L711.44,551.21 L712.50,551.92 L713.50,552.58 L714.73,551.84 L716.10,550.77 L716.99,550.59 L717.98,550.28 L719.10,550.45 L720.40,550.71 L721.44,550.34 L722.63,549.94 L723.89,549.61 L725.16,549.30 L726.35,549.33 L727.40,548.93 L728.62,547.69 L729.61,546.54 L730.59,545.47 L731.80,544.51 L732.83,543.81 L734.01,542.97 L735.25,542.36 L736.49,542.22 L737.67,542.23 L738.70,541.65 L739.94,541.13 L740.95,541.42 L741.94,541.30 L743.10,540.22 L744.01,539.21 L744.98,538.48 L745.99,537.85 L747.04,537.21 L748.12,536.45 L749.20,535.77 L750.31,535.29 L751.47,534.99 L752.65,534.62 L753.83,533.75 L754.99,532.67 L756.10,531.89 L757.17,531.27 L758.23,530.52 L759.26,529.66 L760.26,528.91 L761.24,528.76 L762.20,528.65 L763.30,528.01 L764.34,527.82 L765.36,528.05 L766.37,527.82 L767.40,527.00 L768.43,526.23 L769.44,525.68 L770.46,525.13 L771.54,524.68 L772.70,524.24 L773.77,523.57 L774.91,522.26 L776.10,520.54 L777.30,519.48 L778.48,519.20 L779.60,518.54 L780.69,517.37 L781.77,516.07 L782.84,514.84 L783.86,514.27 L784.82,514.04 L785.70,513.45 L786.81,512.60 L787.74,511.72 L788.62,510.36 L789.60,508.98 L790.74,507.84 L791.96,506.77 L793.18,505.59 L794.30,504.18 L795.65,501.84 L796.89,499.42 L798.00,497.09 L799.28,493.67 L800.50,490.22 L801.47,488.12 L802.52,486.31 L803.70,484.18 L804.70,482.39 L805.78,480.06 L806.92,477.24 L808.10,474.77 L809.11,473.21 L810.20,471.84 L811.28,470.06 L812.31,467.93 L813.20,466.45 L814.27,465.24 L815.10,464.25 L816.10,462.71 L817.12,461.40 L818.27,460.06 L819.44,458.41 L820.50,456.98 L821.72,455.37 L822.82,453.51 L823.80,451.21 L824.97,447.25 L826.00,443.03 L827.06,439.36 L828.20,436.16 L829.14,434.08 L830.16,431.15 L831.10,427.20 L831.89,422.88 L832.59,418.66 L833.30,414.32 L834.06,409.66 L834.81,405.15 L835.50,401.13 L836.06,396.80 L836.54,391.77 L837.10,386.98 L837.83,382.94 L838.63,379.00 L839.30,374.29 L839.65,369.98 L839.92,365.58 L840.15,361.04 L840.40,356.58 L840.94,351.00 L841.50,345.31 L841.72,341.68 L841.94,337.42 L842.17,332.66 L842.42,328.13 L842.70,324.12 L843.03,320.17 L843.39,316.34 L843.77,312.10 L844.15,307.67 L844.50,303.67 L844.89,298.94 L845.25,294.32 L845.61,289.34 L846.00,284.04 L846.43,279.34 L846.89,275.40 L847.36,271.33 L847.80,266.19 L848.13,261.58 L848.45,257.29 L848.76,253.27 L849.08,249.29 L849.40,244.93 L849.74,240.54 L850.09,236.38 L850.44,231.84 L850.78,226.76 L851.10,222.04 L851.35,218.36 L851.59,213.73 L851.81,208.70 L852.04,204.30 L852.26,200.06 L852.50,196.06 L852.85,191.05 L853.19,186.60 L853.57,182.57 L854.00,178.71 L854.53,174.98 L855.13,171.06 L855.73,166.71 L856.30,162.22 L856.71,157.97 L857.11,153.66 L857.49,149.76 L857.85,145.56 L858.20,141.18 L858.71,135.44 L859.19,130.82 L859.70,126.16 L860.16,122.19 L860.65,117.64 L861.14,113.37 L861.60,109.08 L861.99,104.08 L862.35,99.40 L862.71,95.08 L863.10,90.17 L863.56,84.89 L864.05,80.02 L864.54,75.96 L865.00,72.07 L865.42,67.70 L865.83,63.54 L866.20,59.53 L866.50,55.43 L866.74,50.01 L867.10,45.86 L868.21,40.64 L869.50,35.68 L870.57,31.54 L871.50,28.24 L872.85,25.72 L874.20,28.15 L875.50,35.77 L876.86,40.99 L878.20,46.01 L878.86,50.26 L879.40,55.15 L879.82,58.89 L880.30,63.88 L880.78,69.09 L881.20,73.56 L881.55,77.43 L881.85,81.64 L882.13,86.05 L882.40,90.16 L882.91,95.43 L883.40,100.34 L883.65,104.16 L883.90,108.48 L884.15,112.83 L884.40,117.14 L884.62,121.46 L884.83,126.01 L885.07,130.65 L885.40,135.12 L886.02,139.87 L886.77,143.46 L887.50,147.25 L888.46,153.22 L889.50,157.59 L890.76,160.10 L892.20,161.81 L893.32,162.30 L894.53,162.22 L895.70,162.53 L896.76,163.27 L897.78,163.74 L898.80,163.82 L899.87,163.80 L900.95,164.39 L901.90,166.01 L902.92,170.11 L903.90,174.23 L905.22,176.84 L906.60,180.36 L907.47,184.41 L908.31,189.02 L909.10,193.26 L910.10,198.20 L911.10,202.23 L912.34,206.54 L913.60,210.34 L914.64,212.12 L915.70,212.31 L917.05,211.02 L918.40,208.32 L919.42,204.72 L920.50,199.52 L921.24,195.62 L922.08,191.17 L922.93,186.81 L923.70,182.47 L924.54,177.56 L925.30,173.77 L926.10,170.10 L927.04,165.34 L928.02,160.66 L928.90,157.23 L929.87,154.25 L930.80,151.03 L931.97,145.05 L933.20,139.54 L934.36,136.34 L935.60,133.14 L936.55,130.04 L937.57,126.43 L938.70,123.14 L939.64,120.64 L940.64,118.34 L941.68,116.44 L942.70,114.68 L943.71,113.25 L944.74,112.22 L945.74,111.74 L946.70,111.41 L947.93,111.94 L949.09,113.76 L950.10,115.35 L951.23,117.22 L952.20,120.56 L953.24,125.84 L954.30,131.44 L955.41,136.49 L956.50,142.18 L957.00,145.90 L957.49,150.33 L957.98,154.90 L958.50,158.65 L959.72,164.04 L960.90,169.05 L961.65,175.00 L962.50,180.64 L963.45,184.07 L964.58,187.41 L965.70,189.98 L966.65,191.13 L967.59,190.59 L968.80,188.85 L969.77,187.50 L970.88,186.03 L972.08,184.32 L973.27,182.36 L974.40,180.54 L975.48,179.69 L976.57,179.41 L977.63,178.93 L978.62,178.56 L979.50,178.93 L980.64,180.04 L981.57,181.39 L982.60,183.41 L983.55,185.43 L984.58,188.06 L985.64,191.31 L986.70,194.35 L987.77,197.03 L988.87,200.39 L989.93,204.30 L990.90,207.81 L991.73,211.76 L992.47,216.37 L993.17,220.70 L993.90,224.81 L994.67,229.00 L995.44,233.26 L996.22,237.11 L997.00,240.56 L998.07,245.57 L999.14,250.82 L1000.10,255.83 L1000.84,260.11 L1001.47,263.87 L1002.20,267.67 L1003.13,271.10 L1004.16,273.98 L1005.20,276.69 L1006.15,279.80 L1007.11,283.17 L1008.30,285.52 L1009.20,285.96 L1010.22,286.58 L1011.31,287.40 L1012.42,287.56 L1013.50,287.17 L1014.58,287.39 L1015.68,288.29 L1016.78,288.63 L1017.83,288.21 L1018.80,288.28 L1020.09,289.36 L1021.21,290.38 L1022.60,291.27 L1023.53,291.72 L1024.60,291.91 L1025.73,292.09 L1026.86,292.43 L1027.91,292.47 L1028.80,292.54 L1030.10,292.29 L1031.07,290.86 L1032.10,288.74 L1033.31,286.69 L1034.58,284.82 L1035.90,283.22 L1036.94,282.09 L1038.03,281.09 L1039.12,280.79 L1040.20,281.17 L1041.29,281.35 L1042.39,281.42 L1043.44,282.36 L1044.40,283.35 L1045.48,284.64 L1046.42,286.51 L1047.30,288.35 L1048.56,291.51 L1049.70,294.85 L1050.59,297.63 L1051.60,300.25 L1052.61,302.20 L1053.79,304.24 L1054.90,306.14 L1055.80,308.04 L1056.64,309.75 L1057.70,311.01 L1058.74,311.82 L1059.92,312.88 L1061.19,313.56 L1062.50,314.08 L1063.58,314.84 L1064.72,315.29 L1065.88,315.16 L1067.05,315.11 L1068.20,315.25 L1069.37,315.11 L1070.57,315.02 L1071.76,315.05 L1072.88,315.02 L1073.90,315.37 L1075.31,316.08 L1076.50,316.97 L1077.70,318.13 L1078.95,319.24 L1080.20,320.71 L1081.50,322.16 L1082.56,322.74 L1083.67,323.47 L1084.77,324.76 L1085.80,326.39 L1087.00,328.53 L1088.10,330.64 L1089.30,333.08 L1090.35,334.74 L1091.49,335.82 L1092.61,336.68 L1093.60,337.78 L1094.59,339.79 L1095.41,341.79 L1096.40,343.99 L1097.37,345.57 L1098.46,347.05 L1099.59,349.19 L1100.70,350.82 L1101.79,351.54 L1102.90,352.70 L1103.98,353.91 L1105.00,354.79 L1106.22,355.84 L1107.36,356.63 L1108.50,357.62 L1109.64,359.13 L1110.79,361.38 L1112.10,363.55 L1113.01,364.15 L1114.00,364.97 L1115.03,366.10 L1116.08,366.90 L1117.10,367.66 L1118.14,368.81 L1119.21,370.45 L1120.26,372.27 L1121.24,373.62 L1122.10,374.29 L1123.09,374.96 L1123.83,375.43 L1124.90,375.90 L1125.95,376.55 L1127.24,377.30 L1128.59,377.93 L1129.78,378.64 L1130.60,378.94" fill="none" stroke="#2a9763" stroke-width="3.3" stroke-linejoin="round" stroke-linecap="round"/>
<rect x="237" y="327" width="106.3" height="26.6" rx="2" fill="#2e2e2e"/>
<rect x="232.75" y="322.75" width="108.75" height="28.75" rx="1.5" fill="#fff" stroke="#444" stroke-width="1.5"/>
<rect x="237.8" y="335.6" width="20.7" height="3" fill="#2a9763"/>
<text x="264" y="341.8" font-size="15.5" letter-spacing="0.5" style="fill:#111">PVC PbS</text>
</svg></body></html>
